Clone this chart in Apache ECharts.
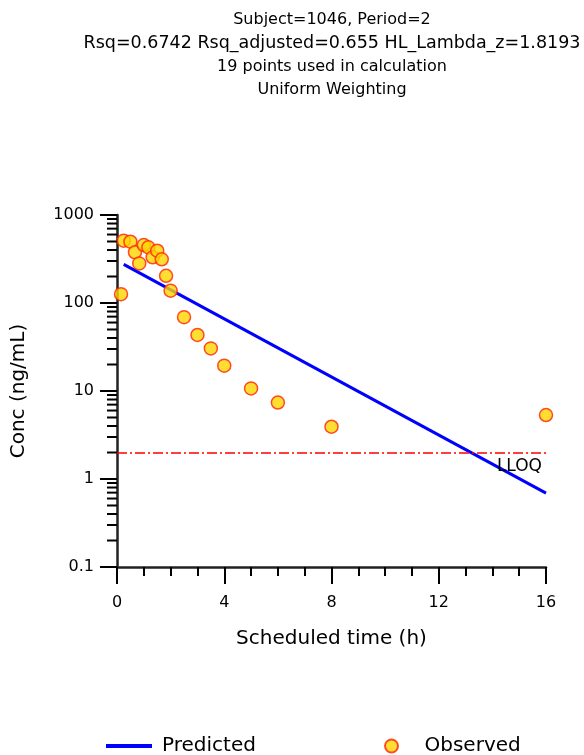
<!DOCTYPE html>
<html>
<head>
<meta charset="utf-8">
<script src="https://cdn.jsdelivr.net/npm/echarts@6/dist/echarts.min.js"></script>
<style>
  html, body { margin: 0; padding: 0; background: #fff; }
  #chart { width: 584px; height: 755px; }
</style>
</head>
<body>
<div id="chart"></div>
<script>
// observed concentrations (ng/mL) at scheduled times (h)
var obsTime = [0.15, 0.25, 0.5, 0.67, 0.83, 1, 1.17, 1.33, 1.5, 1.67, 1.83, 2, 2.5, 3, 3.5, 4, 5, 6, 8, 16];
var obsConc = [126, 511, 497, 377, 282, 456, 429, 331, 393, 314, 204, 138, 69, 43.3, 30.5, 19.4, 10.7, 7.4, 3.93, 5.33];

// predicted terminal regression line
var predTime = [0.25, 16];
var predConc = [275, 0.69];

var lloq = 2;

var titleLines = [
  'Subject=1046, Period=2',
  'Rsq=0.6742 Rsq_adjusted=0.655 HL_Lambda_z=1.8193',
  '19 points used in calculation',
  'Uniform Weighting'
];

// minor ticks of the log axis (2..9 in each decade)
var decades = [0.1, 1, 10, 100];
var minorMult = [2, 3, 4, 5, 6, 7, 8, 9];
var yMinorTicks = [];
decades.forEach(function (d) {
  minorMult.forEach(function (m) { yMinorTicks.push([0, +(d * m).toPrecision(3)]); });
});

var font = 'DejaVu Sans';

var myChart = echarts.init(document.getElementById('chart'));

var option = {
  backgroundColor: '#fff',
  animation: false,
  title: {
    text: '{a|' + titleLines[0] + '}\n{b|' + titleLines[1] + '}\n{a|' + titleLines[2] + '}\n{a|' + titleLines[3] + '}',
    left: 332,
    top: 8,
    padding: 0,
    textAlign: 'center',
    textStyle: {
      fontFamily: font,
      fontSize: 16,
      fontWeight: 'normal',
      color: '#000',
      lineHeight: 23.5,
      rich: {
        a: { fontFamily: font, fontSize: 16, color: '#000', lineHeight: 23.5 },
        b: { fontFamily: font, fontSize: 17.5, color: '#000', lineHeight: 23.5 }
      }
    }
  },
  legend: [{
    data: [{ name: 'Predicted', icon: 'rect' }],
    left: 106,
    top: 736,
    padding: 0,
    itemWidth: 46,
    itemHeight: 4,
    textStyle: { fontFamily: font, fontSize: 20, color: '#000', padding: [0, 0, 0, 5] }
  }, {
    data: ['Observed'],
    left: 384,
    top: 736,
    padding: 0,
    itemWidth: 46,
    itemHeight: 13,
    textStyle: { fontFamily: font, fontSize: 20, color: '#000', padding: [0, 0, 0, 5] }
  }],
  grid: {
    left: 117,
    right: 38,
    top: 215,
    bottom: 188
  },
  xAxis: {
    type: 'value',
    min: 0,
    max: 16,
    interval: 4,
    name: 'Scheduled time (h)',
    nameLocation: 'middle',
    nameGap: 62,
    nameTextStyle: { fontFamily: font, fontSize: 20, color: '#000' },
    axisLine: { lineStyle: { color: '#222', width: 2.5 } },
    axisTick: { length: 17, lineStyle: { color: '#000', width: 2 } },
    minorTick: { show: true, splitNumber: 4, length: 9, lineStyle: { color: '#000', width: 2 } },
    axisLabel: { fontFamily: font, fontSize: 16, color: '#000', margin: 28 },
    splitLine: { show: false }
  },
  yAxis: {
    type: 'log',
    logBase: 10,
    min: 0.1,
    max: 1000,
    name: 'Conc (ng/mL)',
    nameLocation: 'middle',
    nameGap: 88,
    nameTextStyle: { fontFamily: font, fontSize: 20, color: '#000' },
    axisLine: { show: true, lineStyle: { color: '#222', width: 2.5 } },
    axisTick: { show: true, length: 17, lineStyle: { color: '#000', width: 2 } },
    axisLabel: {
      fontFamily: font, fontSize: 16, color: '#000', margin: 23,
      formatter: function (v) { return String(+v.toPrecision(3)); }
    },
    splitLine: { show: false }
  },
  series: [
    {
      name: 'Predicted',
      type: 'line',
      data: predTime.map(function (t, i) { return [t, predConc[i]]; }),
      symbol: 'none',
      lineStyle: { color: '#0000ff', width: 3 },
      itemStyle: { color: '#0000ff' },
      z: 3,
      markLine: {
        silent: true,
        symbol: 'none',
        lineStyle: { color: '#ff0000', width: 1.5, type: [10, 3, 2, 3] },
        label: {
          show: true,
          formatter: 'LLOQ',
          position: 'insideEndBottom',
          distance: [4, 6],
          fontFamily: font,
          fontSize: 17,
          color: '#000'
        },
        data: [{ yAxis: lloq }]
      }
    },
    {
      name: 'Observed',
      type: 'scatter',
      data: obsTime.map(function (t, i) { return [t, obsConc[i]]; }),
      symbol: 'circle',
      symbolSize: 13,
      itemStyle: { color: '#ffd400', borderColor: '#ff2200', borderWidth: 1.5 },
      z: 4
    },
    {
      name: 'minorTicks',
      type: 'custom',
      silent: true,
      clip: false,
      data: yMinorTicks,
      encode: { x: 0, y: 1 },
      renderItem: function (params, api) {
        var p = api.coord([0, api.value(1)]);
        return {
          type: 'line',
          shape: { x1: p[0] - 10, y1: p[1], x2: p[0], y2: p[1] },
          style: { stroke: '#000', lineWidth: 2 }
        };
      },
      z: 2
    }
  ]
};

myChart.setOption(option);
</script>
</body>
</html>
